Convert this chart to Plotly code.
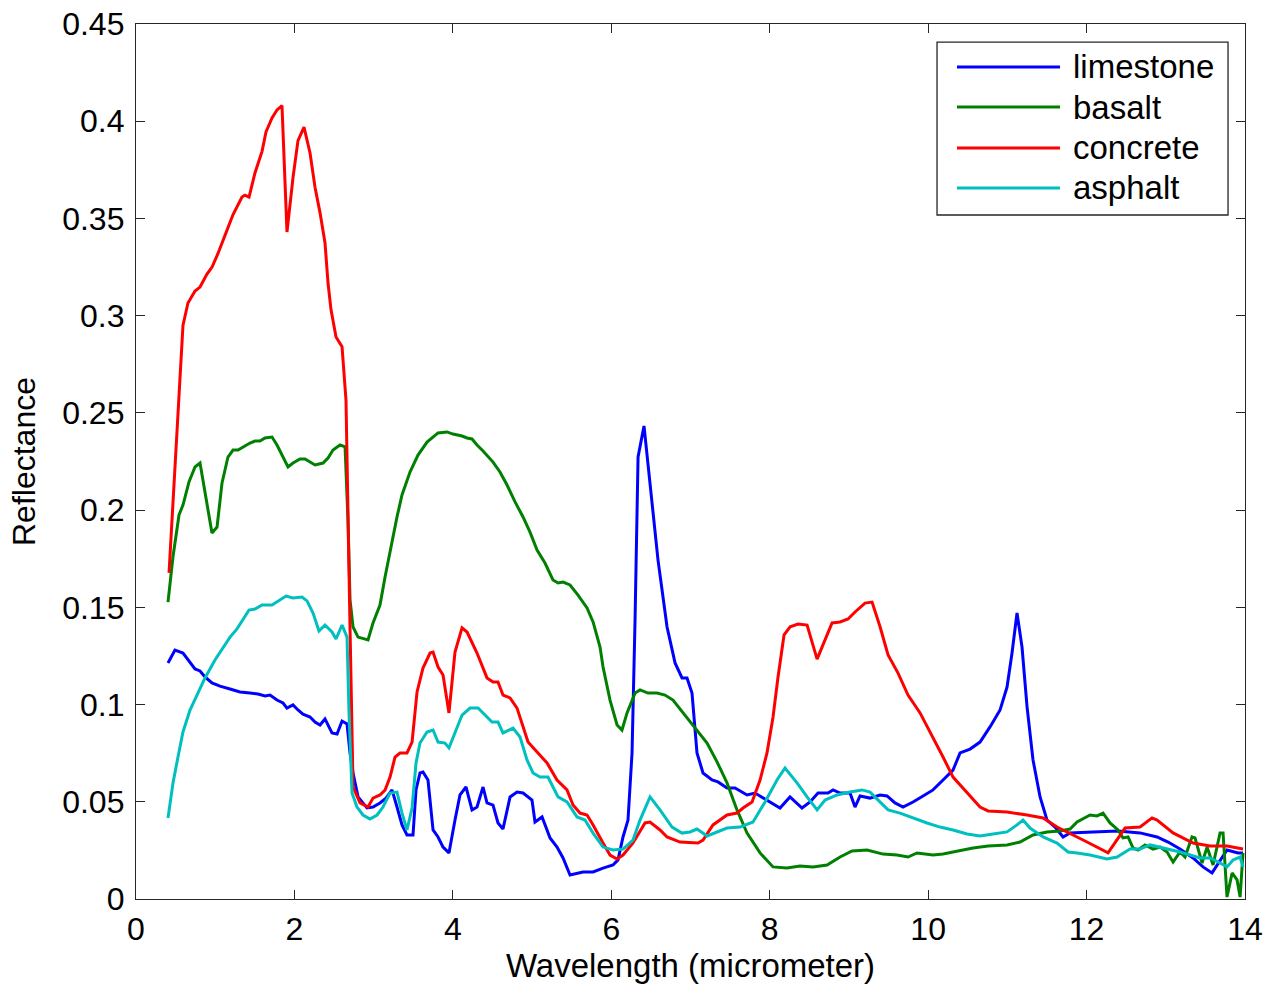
import plotly.graph_objects as go

# ---------------- data ----------------
limestone_x = [0.404,0.492,0.593,0.682,0.745,0.808,0.871,0.959,1.060,1.187,1.313,1.439,1.540,1.629,1.692,1.780,1.856,1.906,1.982,2.045,2.108,2.197,2.260,2.323,2.386,2.474,2.538,2.601,2.664,2.702,2.740,2.803,2.916,2.992,3.080,3.156,3.232,3.295,3.358,3.421,3.497,3.535,3.585,3.623,3.686,3.750,3.813,3.876,3.951,4.027,4.090,4.166,4.242,4.305,4.381,4.431,4.507,4.570,4.633,4.722,4.810,4.886,4.999,5.037,5.126,5.227,5.315,5.391,5.479,5.643,5.770,5.896,6.022,6.085,6.148,6.211,6.262,6.300,6.338,6.413,6.489,6.590,6.704,6.805,6.893,6.956,7.019,7.082,7.158,7.272,7.347,7.461,7.562,7.714,7.815,7.966,8.130,8.256,8.408,8.509,8.610,8.736,8.800,8.888,9.014,9.077,9.140,9.266,9.393,9.481,9.582,9.683,9.809,9.936,10.062,10.188,10.314,10.403,10.529,10.655,10.781,10.908,10.996,11.059,11.122,11.185,11.249,11.324,11.413,11.501,11.602,11.703,11.791,12.082,12.397,12.675,12.890,13.029,13.180,13.344,13.470,13.584,13.685,13.773,13.912,13.975]
limestone_y = [0.1214,0.128,0.1265,0.1214,0.1183,0.1173,0.1142,0.1111,0.1095,0.108,0.1065,0.1059,0.1054,0.1044,0.1049,0.1023,0.1008,0.0982,0.0998,0.0972,0.0951,0.0936,0.091,0.0895,0.0926,0.0854,0.0849,0.0915,0.09,0.0751,0.0648,0.0525,0.0468,0.0473,0.0494,0.0519,0.0561,0.0473,0.0381,0.0329,0.0329,0.0561,0.0648,0.0653,0.0612,0.0355,0.0319,0.0267,0.0237,0.0406,0.0535,0.0576,0.0458,0.0473,0.0576,0.0494,0.0483,0.0391,0.036,0.0525,0.055,0.0545,0.0509,0.0396,0.0422,0.0314,0.0267,0.0211,0.0123,0.0139,0.0139,0.0159,0.0175,0.0201,0.0319,0.0406,0.0751,0.1435,0.2273,0.2433,0.2139,0.1743,0.1399,0.1214,0.1137,0.1137,0.1059,0.0751,0.0648,0.0612,0.0602,0.0571,0.0571,0.0535,0.0545,0.0509,0.0468,0.0525,0.0468,0.0499,0.0545,0.0545,0.0561,0.0545,0.0545,0.0473,0.053,0.0519,0.0535,0.053,0.0494,0.0473,0.0499,0.053,0.0561,0.0612,0.0663,0.0751,0.0771,0.0807,0.0885,0.0972,0.109,0.1265,0.1471,0.1296,0.0987,0.0715,0.0525,0.0406,0.037,0.0319,0.034,0.0345,0.035,0.034,0.0319,0.0293,0.0257,0.0211,0.0165,0.0134,0.0201,0.0252,0.0237,0.0237]

basalt_x = [0.404,0.467,0.543,0.593,0.669,0.745,0.808,0.884,0.959,1.023,1.086,1.161,1.225,1.288,1.351,1.439,1.502,1.565,1.628,1.717,1.780,1.843,1.919,1.982,2.070,2.134,2.197,2.260,2.361,2.424,2.487,2.575,2.639,2.676,2.702,2.740,2.803,2.929,2.992,3.080,3.144,3.232,3.295,3.358,3.459,3.560,3.674,3.813,3.926,4.002,4.116,4.179,4.242,4.305,4.381,4.507,4.595,4.684,4.785,4.886,4.974,5.063,5.163,5.264,5.328,5.391,5.479,5.580,5.694,5.770,5.858,5.896,5.984,6.073,6.135,6.199,6.300,6.363,6.464,6.577,6.678,6.779,6.906,7.082,7.209,7.335,7.461,7.587,7.714,7.878,8.042,8.219,8.383,8.547,8.724,8.888,9.039,9.229,9.431,9.607,9.746,9.860,10.062,10.188,10.365,10.567,10.756,10.996,11.160,11.324,11.501,11.665,11.791,11.880,12.044,12.132,12.208,12.296,12.397,12.460,12.524,12.587,12.650,12.738,12.839,12.928,13.016,13.092,13.180,13.243,13.331,13.369,13.458,13.521,13.597,13.685,13.723,13.773,13.837,13.900,13.938,13.975]
basalt_y = [0.1527,0.176,0.1975,0.2026,0.2145,0.2222,0.2242,0.2067,0.1882,0.1913,0.214,0.2273,0.2309,0.2309,0.2325,0.2345,0.2355,0.2355,0.2371,0.2376,0.2335,0.2283,0.2222,0.2242,0.2263,0.2263,0.2247,0.2232,0.2242,0.2268,0.2309,0.2335,0.2325,0.1949,0.1538,0.1399,0.1347,0.1332,0.1419,0.1512,0.1656,0.1846,0.1965,0.2078,0.2196,0.2283,0.235,0.2397,0.2402,0.2391,0.2381,0.2371,0.2366,0.2335,0.2304,0.2247,0.2196,0.2129,0.2042,0.1965,0.1887,0.1795,0.1728,0.1641,0.1625,0.163,0.1615,0.1563,0.1497,0.1425,0.1296,0.1193,0.1023,0.0895,0.0869,0.0957,0.1059,0.1075,0.1059,0.1059,0.1049,0.1023,0.0957,0.0869,0.0802,0.0705,0.0597,0.0458,0.0339,0.0237,0.0165,0.0159,0.017,0.0165,0.0175,0.0216,0.0247,0.0252,0.0231,0.0226,0.0216,0.0237,0.0226,0.0231,0.0247,0.0262,0.0273,0.0278,0.0293,0.0329,0.0345,0.035,0.036,0.0396,0.0432,0.0427,0.0442,0.0391,0.0355,0.0314,0.0319,0.0262,0.0252,0.0278,0.0257,0.0267,0.0242,0.019,0.0242,0.0216,0.0319,0.0314,0.0185,0.0267,0.0175,0.034,0.034,0.001,0.0134,0.0098,0.001,0.0237]

concrete_x = [0.417,0.543,0.593,0.656,0.745,0.808,0.896,0.960,1.035,1.149,1.225,1.338,1.376,1.427,1.502,1.591,1.641,1.717,1.780,1.843,1.906,1.982,2.045,2.121,2.197,2.260,2.323,2.386,2.424,2.462,2.525,2.601,2.651,2.700,2.740,2.828,2.929,2.992,3.080,3.144,3.207,3.270,3.333,3.421,3.485,3.548,3.623,3.712,3.750,3.813,3.876,3.951,4.027,4.116,4.179,4.305,4.431,4.507,4.570,4.633,4.722,4.810,4.886,4.949,5.063,5.189,5.315,5.441,5.517,5.605,5.694,5.770,5.896,5.984,6.073,6.148,6.274,6.426,6.489,6.615,6.704,6.868,7.095,7.158,7.284,7.461,7.587,7.663,7.777,7.878,7.966,8.042,8.105,8.181,8.258,8.358,8.472,8.598,8.787,8.888,8.989,9.077,9.203,9.292,9.393,9.494,9.620,9.746,9.898,10.062,10.188,10.314,10.491,10.655,10.756,10.996,11.249,11.451,11.627,11.754,12.006,12.271,12.486,12.675,12.827,12.890,13.092,13.344,13.559,13.773,13.975]
concrete_y = [0.1677,0.262,0.295,0.3065,0.3127,0.3147,0.3214,0.325,0.332,0.344,0.352,0.361,0.362,0.361,0.3734,0.3845,0.3945,0.4017,0.4058,0.408,0.343,0.371,0.390,0.397,0.3837,0.366,0.353,0.3374,0.3168,0.303,0.289,0.284,0.2566,0.1435,0.0576,0.0494,0.0473,0.0519,0.0535,0.056,0.0627,0.073,0.0751,0.0751,0.0807,0.1065,0.1188,0.1265,0.127,0.1193,0.1152,0.0957,0.127,0.1394,0.1373,0.1265,0.1137,0.1116,0.1116,0.1049,0.1034,0.0982,0.0885,0.0807,0.0756,0.070,0.0612,0.0561,0.0483,0.0442,0.0432,0.0381,0.0288,0.0226,0.0206,0.0226,0.0288,0.0391,0.0396,0.0355,0.0319,0.0293,0.0288,0.0303,0.0381,0.0432,0.0442,0.0468,0.0499,0.0612,0.0751,0.0936,0.1142,0.1358,0.140,0.1414,0.1409,0.1234,0.142,0.1425,0.144,0.1476,0.1522,0.1527,0.140,0.1255,0.1162,0.1049,0.0957,0.0833,0.073,0.0627,0.0545,0.0473,0.0453,0.0447,0.0432,0.0417,0.037,0.0345,0.0293,0.0237,0.0365,0.037,0.0417,0.0406,0.034,0.0288,0.0273,0.0273,0.0257]

asphalt_x = [0.404,0.467,0.530,0.593,0.682,0.770,0.871,0.997,1.098,1.187,1.275,1.351,1.427,1.502,1.591,1.717,1.793,1.894,1.982,2.096,2.159,2.235,2.310,2.386,2.474,2.525,2.601,2.664,2.689,2.727,2.790,2.866,2.954,3.043,3.118,3.207,3.295,3.358,3.421,3.485,3.535,3.585,3.674,3.750,3.813,3.901,3.951,4.027,4.116,4.217,4.318,4.406,4.494,4.570,4.633,4.760,4.848,4.936,5.012,5.100,5.201,5.328,5.441,5.567,5.668,5.770,5.896,6.022,6.148,6.274,6.363,6.489,6.615,6.767,6.893,6.994,7.082,7.209,7.335,7.461,7.625,7.789,7.941,8.092,8.193,8.345,8.472,8.598,8.699,8.850,9.014,9.165,9.266,9.393,9.494,9.645,9.809,9.986,10.150,10.314,10.491,10.655,10.819,10.996,11.122,11.198,11.286,11.451,11.627,11.766,11.880,12.044,12.258,12.385,12.549,12.675,12.801,12.966,13.180,13.432,13.559,13.685,13.773,13.849,13.938,13.975]
asphalt_y = [0.0417,0.0597,0.073,0.0859,0.0972,0.1049,0.1137,0.1229,0.1291,0.1347,0.1389,0.1435,0.1486,0.1491,0.1512,0.1512,0.1533,0.1558,0.1548,0.1553,0.1533,0.1471,0.1378,0.1409,0.1373,0.1337,0.1409,0.1347,0.0957,0.0545,0.0473,0.0432,0.0411,0.0432,0.0473,0.0545,0.055,0.0442,0.0355,0.0468,0.0699,0.0802,0.0859,0.0869,0.0807,0.0802,0.0777,0.0859,0.0946,0.0982,0.0982,0.0946,0.091,0.091,0.0854,0.0879,0.0833,0.0715,0.0648,0.0627,0.0627,0.0525,0.0499,0.0422,0.0406,0.0339,0.0267,0.0252,0.0257,0.0303,0.0406,0.0525,0.0458,0.037,0.0339,0.0345,0.036,0.0324,0.0345,0.0365,0.037,0.0396,0.0499,0.0612,0.0674,0.0597,0.0525,0.0458,0.0509,0.0535,0.055,0.0561,0.055,0.0499,0.0458,0.0442,0.0417,0.0391,0.037,0.0355,0.0334,0.0324,0.0334,0.0345,0.0381,0.0406,0.0365,0.0319,0.0288,0.0242,0.0237,0.0226,0.0206,0.0216,0.0257,0.0257,0.0278,0.0262,0.0242,0.0211,0.0211,0.0185,0.0165,0.0201,0.0216,0.0165]

series_names = ["limestone", "basalt", "concrete", "asphalt"]
series_colors = ["#0000ff", "#008000", "#ff0000", "#00bfbf"]

x_ticks = [0, 2, 4, 6, 8, 10, 12, 14]
y_ticks = [0, 0.05, 0.1, 0.15, 0.2, 0.25, 0.3, 0.35, 0.4, 0.45]
y_tick_text = ["0", "0.05", "0.1", "0.15", "0.2", "0.25", "0.3", "0.35", "0.4", "0.45"]

FONT = "Liberation Sans, Arial, sans-serif"
AXIS_COLOR = "#262626"

fig = go.Figure()
for name, color, xs, ys in zip(series_names, series_colors,
                               [limestone_x, basalt_x, concrete_x, asphalt_x],
                               [limestone_y, basalt_y, concrete_y, asphalt_y]):
    fig.add_trace(go.Scatter(x=xs, y=ys, mode="lines", name=name, showlegend=False,
                             line=dict(color=color, width=3)))

axis_common = dict(showgrid=False, zeroline=False, showline=True, linecolor=AXIS_COLOR,
                   linewidth=1.3, mirror="ticks", ticks="inside", ticklen=9, tickwidth=1,
                   tickcolor=AXIS_COLOR, automargin=False,
                   tickfont=dict(family=FONT, size=32, color="#000"))

fig.update_xaxes(range=[0, 14], tickvals=x_ticks, ticklabelstandoff=1,
                 title=dict(text="Wavelength (micrometer)", standoff=6,
                            font=dict(family=FONT, size=33, color="#000")),
                 **axis_common)
fig.update_yaxes(range=[0, 0.45], tickvals=y_ticks, ticktext=y_tick_text, ticklabelstandoff=4,
                 title=dict(text="Reflectance", standoff=16,
                            font=dict(family=FONT, size=32, color="#000")),
                 **axis_common)

# ---- MATLAB-style legend box drawn in paper coordinates ----
leg_x0, leg_x1, leg_y0, leg_y1 = 0.7223, 0.9847, 0.7817, 0.9794
leg_line_x0, leg_line_x1, leg_text_x = 0.7403, 0.8332, 0.8431
leg_rows_y = [0.9509, 0.9051, 0.8583, 0.8126]

shapes = [dict(type="rect", xref="paper", yref="paper", x0=leg_x0, x1=leg_x1, y0=leg_y0, y1=leg_y1,
               line=dict(color=AXIS_COLOR, width=1.3), fillcolor="white", layer="above")]
annotations = []
for name, color, ry in zip(series_names, series_colors, leg_rows_y):
    shapes.append(dict(type="line", xref="paper", yref="paper", x0=leg_line_x0, x1=leg_line_x1,
                       y0=ry, y1=ry, line=dict(color=color, width=3), layer="above"))
    annotations.append(dict(xref="paper", yref="paper", x=leg_text_x, y=ry, text=name,
                            showarrow=False, xanchor="left", yanchor="middle",
                            font=dict(family=FONT, size=33, color="#000")))

fig.update_layout(
    width=1274, height=994,
    margin=dict(l=136, r=29, t=24, b=95),
    paper_bgcolor="white", plot_bgcolor="white",
    shapes=shapes, annotations=annotations,
    showlegend=False,
)

fig.write_html("out.html")
